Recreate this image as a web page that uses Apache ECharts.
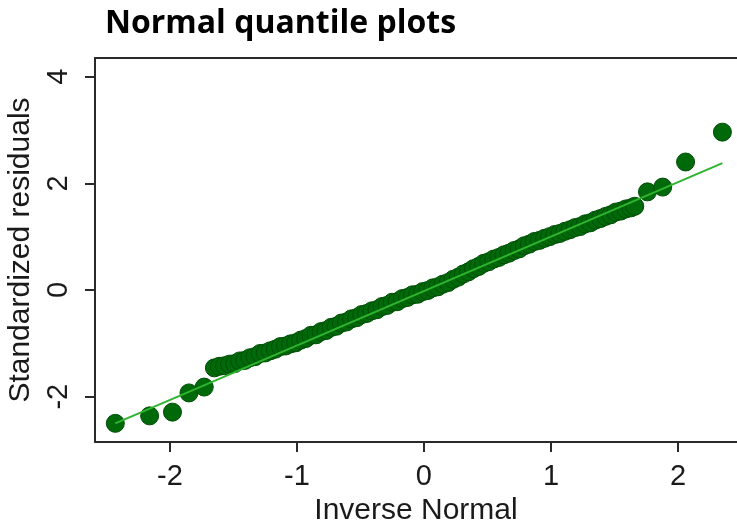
<!DOCTYPE html>
<html>
<head>
<meta charset="utf-8">
<script src="https://cdn.jsdelivr.net/npm/echarts@6/dist/echarts.min.js"></script>
<style>html,body{margin:0;padding:0;background:#fff}#c{width:737px;height:525px}</style>
</head>
<body>
<div id="c"></div>
<script>
// Inverse normal quantiles (x) and standardized residuals (y)
const quantX = [-2.43,-2.16,-1.98,-1.85,-1.73,
-1.65,-1.61,-1.57,-1.53,-1.49,-1.45,-1.41,-1.37,-1.33,-1.29,-1.25,-1.21,-1.17,-1.13,-1.09,-1.05,-1.01,-0.97,-0.93,-0.89,-0.85,-0.81,-0.77,-0.73,-0.69,-0.65,-0.61,-0.57,-0.53,-0.49,-0.45,-0.41,-0.37,-0.33,-0.29,-0.25,-0.21,-0.17,-0.13,-0.09,-0.05,-0.01,
0.03,0.07,0.11,0.15,0.19,0.23,0.27,0.31,0.35,0.39,0.43,0.47,0.51,0.55,0.59,0.63,0.67,0.71,0.75,0.79,0.83,0.87,0.91,0.95,0.99,1.03,1.07,1.11,1.15,1.19,1.23,1.27,1.31,1.35,1.39,1.43,1.47,1.51,1.55,1.59,1.63,1.66,
1.76,1.88,2.06,2.35];
const residY = [-2.50,-2.36,-2.29,-1.93,-1.82,
-1.46,-1.43,-1.42,-1.39,-1.38,-1.33,-1.32,-1.27,-1.25,-1.19,-1.18,-1.14,-1.11,-1.06,-1.05,-1.01,-0.99,-0.94,-0.91,-0.85,-0.84,-0.78,-0.76,-0.70,-0.68,-0.62,-0.60,-0.54,-0.52,-0.46,-0.44,-0.39,-0.37,-0.31,-0.29,-0.23,-0.22,-0.16,-0.14,-0.09,-0.08,-0.03,
-0.01,0.04,0.06,0.11,0.14,0.20,0.24,0.30,0.34,0.40,0.44,0.50,0.53,0.58,0.61,0.66,0.69,0.74,0.77,0.83,0.86,0.91,0.93,0.97,1.00,1.04,1.06,1.10,1.13,1.17,1.19,1.24,1.26,1.31,1.34,1.38,1.41,1.46,1.48,1.52,1.54,1.57,
1.84,1.93,2.40,2.96];
// Reference line endpoints
const refLineX = [-2.43, 2.35];
const refLineY = [-2.50, 2.38];
// Tick labels
const xTicks = [-2, -1, 0, 1, 2];
const yTicks = [-2, 0, 2, 4];

const points = quantX.map((x, i) => [x, residY[i]]);
const refLine = refLineX.map((x, i) => [x, refLineY[i]]);

const chart = echarts.init(document.getElementById('c'), null, {renderer: 'canvas'});
const axisFont = 'Liberation Sans, Arial, sans-serif';
chart.setOption({
  animation: false,
  backgroundColor: '#fff',
  title: {
    text: 'Normal quantile plots',
    left: 100, top: 3,
    textStyle: {fontFamily: 'Open Sans, sans-serif', fontWeight: 'bold', fontSize: 32, color: '#000'}
  },
  grid: {left: 95, top: 58, right: 0, bottom: 83, containLabel: false, outerBoundsMode: 'none'},
  xAxis: [{
    type: 'value', min: -2.59, max: 2.465,
    name: 'Inverse Normal', nameLocation: 'middle', nameGap: 50,
    nameTextStyle: {fontFamily: axisFont, fontSize: 30, color: '#1a1a1a'},
    axisLine: {show: true, onZero: false, lineStyle: {color: '#2a2a2a', width: 2}},
    axisTick: {show: true, length: 10, lineStyle: {color: '#2a2a2a', width: 2}, customValues: xTicks},
    axisLabel: {fontFamily: axisFont, fontSize: 29, color: '#1a1a1a', margin: 20, customValues: xTicks},
    splitLine: {show: false}
  }, {
    type: 'value', position: 'top', min: -2.59, max: 2.465,
    axisLine: {show: true, onZero: false, lineStyle: {color: '#2a2a2a', width: 2}},
    axisTick: {show: false}, axisLabel: {show: false}, splitLine: {show: false}
  }],
  yAxis: {
    type: 'value', min: -2.85, max: 4.35,
    name: 'Standardized residuals', nameLocation: 'middle', nameGap: 56,
    nameTextStyle: {fontFamily: axisFont, fontSize: 30, color: '#1a1a1a'},
    axisLine: {show: true, onZero: false, lineStyle: {color: '#2a2a2a', width: 2}},
    axisTick: {show: true, length: 10, lineStyle: {color: '#2a2a2a', width: 2}, customValues: yTicks},
    axisLabel: {fontFamily: axisFont, fontSize: 29, color: '#1a1a1a', margin: 22, rotate: 90, customValues: yTicks},
    splitLine: {show: false}
  },
  series: [{
    type: 'scatter', data: points, symbol: 'circle', symbolSize: 18,
    itemStyle: {color: '#006a0a', borderColor: '#004d05', borderWidth: 1, opacity: 1},
    z: 2
  }, {
    type: 'line', data: refLine, symbol: 'none',
    lineStyle: {color: '#2fb42f', width: 2},
    z: 3
  }]
});
</script>
</body>
</html>
